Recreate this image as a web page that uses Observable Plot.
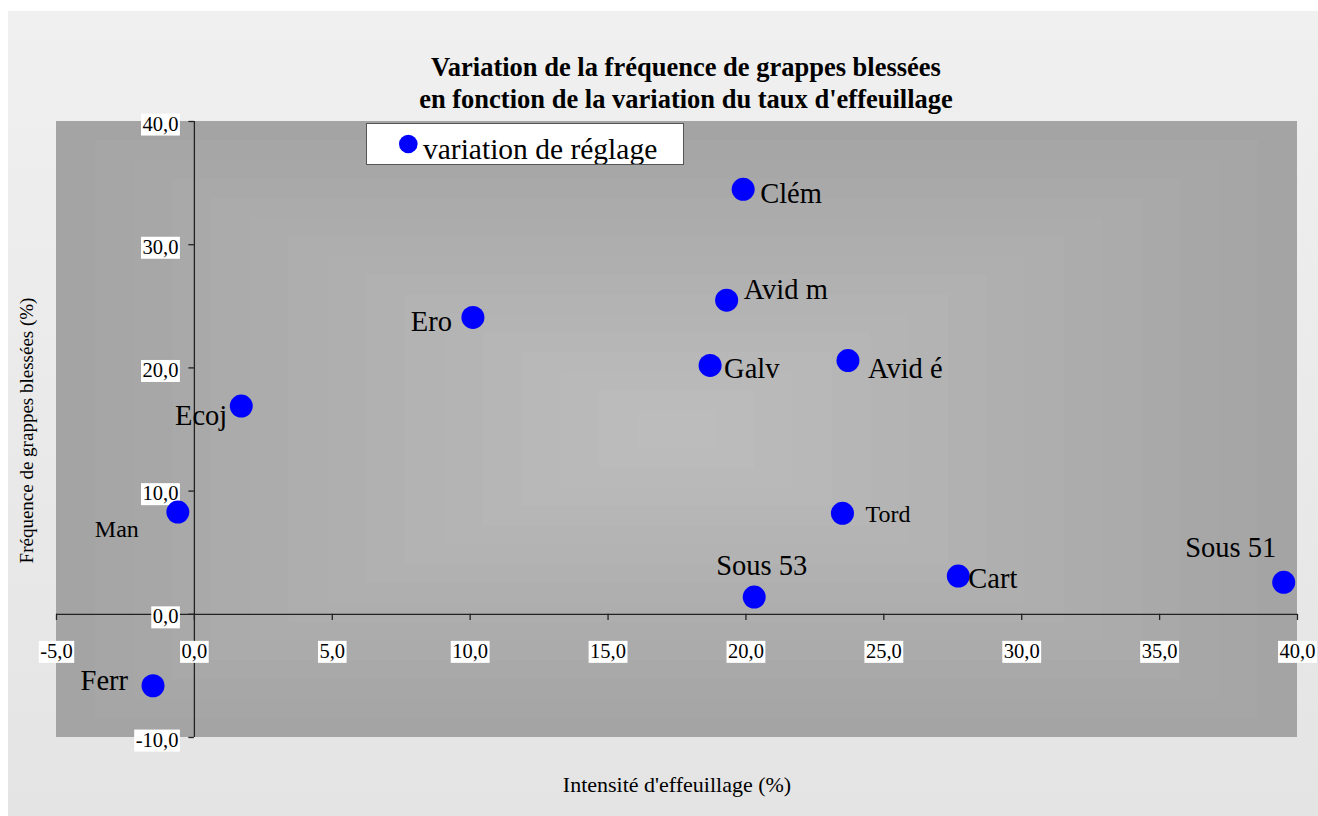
<!DOCTYPE html>
<html><head><meta charset="utf-8">
<script src="https://cdn.jsdelivr.net/npm/d3@7"></script>
<script src="https://cdn.jsdelivr.net/npm/@observablehq/plot@0.6"></script>
<style>
html,body{margin:0;padding:0;background:#fff;}
#wrap{position:relative;width:1318px;height:816px;overflow:hidden;}
#panel{position:absolute;left:8px;top:11px;right:0;bottom:0;background:linear-gradient(#f0f0f0,#e4e4e4);}
#chart{position:absolute;left:0;top:0;}
#legend{position:absolute;left:366px;top:123px;width:318px;height:42px;box-sizing:border-box;background:#fff;border:1px solid #555;}
#legend svg{display:block;}
</style></head>
<body>
<div id="wrap"><div id="panel"></div><div id="chart"></div><div id="legend"></div></div>
<script>
// ---- data ----
const names = ["Clém","Avid m","Ero","Galv","Avid é","Ecoj","Man","Ferr","Tord","Sous 53","Cart","Sous 51"];
const effeuillage = [19.9,19.3,10.1,18.7,23.7,1.7,-0.6,-1.5,23.5,20.3,27.7,39.5];
const blessees = [34.5,25.5,24.1,20.2,20.6,16.9,8.3,-5.8,8.2,1.4,3.1,2.6];
const xTicks = [-5,0,5,10,15,20,25,30,35,40];
const yTicks = [-10,0,10,20,30,40];
const seriesName = "variation de réglage";
const titleLines = ["Variation de la fréquence de grappes blessées","en fonction de la variation du taux d'effeuillage"];
const xTitle = "Intensité d'effeuillage (%)";
const yTitle = "Fréquence de grappes blessées (%)";

// ---- layout of point labels (relative to each point, pixels) ----
const labelLayout = {
  "Clém":   {anchor:"start",  dx:17,   dy:4.5},
  "Avid m": {anchor:"start",  dx:17,   dy:-10.5},
  "Ero":    {anchor:"end",    dx:-21,  dy:4.5},
  "Galv":   {anchor:"start",  dx:14,   dy:3},
  "Avid é": {anchor:"start",  dx:20,   dy:8},
  "Ecoj":   {anchor:"end",    dx:-14,  dy:10},
  "Man":    {anchor:"end",    dx:-39,  dy:17.5, small:true},
  "Ferr":   {anchor:"end",    dx:-25,  dy:-5},
  "Tord":   {anchor:"start",  dx:23,   dy:1,    small:true},
  "Sous 53":{anchor:"middle", dx:7.5,  dy:-31},
  "Cart":   {anchor:"start",  dx:10,   dy:3},
  "Sous 51":{anchor:"end",    dx:-7.5, dy:-34.5}
};

const points = names.map((n, i) => ({name: n, x: effeuillage[i], y: blessees[i]}));
const fmt = v => v.toFixed(1).replace(".", ",");
const xDomain = [xTicks[0], xTicks[xTicks.length - 1]];
const yDomain = [yTicks[0], yTicks[yTicks.length - 1]];
const cx = (xDomain[0] + xDomain[1]) / 2, cy = (yDomain[0] + yDomain[1]) / 2;
const N = 16;
const grad = d3.range(N).map(i => ({t: i / N}));
const shade = d3.interpolateRgb("#a4a4a4", "#bebebe");
const font = "Liberation Serif";

const labelMarks = points.map(p => {
  const L = labelLayout[p.name];
  return Plot.text([p], {x: "x", y: "y", text: "name", textAnchor: L.anchor, dx: L.dx, dy: L.dy,
    fontSize: L.small ? 24 : 28.5, fill: "#000", fontFamily: font});
});

const chart = Plot.plot({
  width: 1318, height: 816,
  marginLeft: 56, marginRight: 21, marginTop: 121, marginBottom: 79,
  x: {domain: xDomain, axis: null},
  y: {domain: yDomain, axis: null},
  color: {type: "identity"},
  style: {background: "transparent", fontFamily: font, fontSize: "20px", color: "#000", overflow: "visible"},
  marks: [
    Plot.rect(grad, {
      x1: d => xDomain[0] + d.t * (cx - xDomain[0]),
      x2: d => xDomain[1] - d.t * (xDomain[1] - cx),
      y1: d => yDomain[0] + d.t * (cy - yDomain[0]),
      y2: d => yDomain[1] - d.t * (yDomain[1] - cy),
      fill: d => shade(d.t)
    }),
    Plot.ruleY([0], {x1: xDomain[0], x2: xDomain[1], stroke: "#222", strokeWidth: 1.3}),
    Plot.ruleX([0], {y1: yDomain[0], y2: yDomain[1], stroke: "#222", strokeWidth: 1.3}),
    Plot.ruleX(xTicks, {x: d => d, y1: 0, y2: -0.5, stroke: "#222", strokeWidth: 1.3}),
    Plot.ruleY(yTicks, {y: d => d, x1: 0, x2: -0.2, stroke: "#222", strokeWidth: 1.3}),
    Plot.text(xTicks, {x: d => d, y: 0, text: fmt, dy: 37, fontSize: 20.5, fill: "#000", fontFamily: font}),
    Plot.text(yTicks, {x: 0, y: d => d, text: fmt, textAnchor: "end", dx: -16, dy: 2.5, fontSize: 20.5, fill: "#000", fontFamily: font}),
    Plot.dot(points, {x: "x", y: "y", r: 11.5, fill: "#0000ff"}),
    ...labelMarks,
    Plot.text([titleLines.join("\n")], {text: d => d, frameAnchor: "top", textAnchor: "middle", dx: 9, dy: -14,
      lineAnchor: "bottom", lineHeight: 1.2, fontSize: 26.5, fontWeight: "bold", fill: "#000", fontFamily: font}),
    Plot.text([xTitle], {text: d => d, frameAnchor: "bottom", textAnchor: "middle", dy: 54, lineAnchor: "bottom", fontSize: 22, fill: "#000", fontFamily: font}),
    Plot.text([yTitle], {text: d => d, frameAnchor: "left", textAnchor: "middle", rotate: -90, dx: -24, dy: 1, lineAnchor: "bottom", fontSize: 19, fill: "#000", fontFamily: font})
  ]
});
document.getElementById("chart").append(chart);

// white boxes behind tick labels
const tickTexts = new Set([...xTicks, ...yTicks].map(fmt));
chart.querySelectorAll("text").forEach(t => {
  if (tickTexts.has(t.textContent)) {
    const b = t.getBBox();
    const r = document.createElementNS("http://www.w3.org/2000/svg", "rect");
    r.setAttribute("x", b.x - 1.5);
    r.setAttribute("y", b.y + 1);
    r.setAttribute("width", b.width + 3);
    r.setAttribute("height", b.height);
    r.setAttribute("fill", "#fff");
    const tr = t.getAttribute("transform");
    if (tr) r.setAttribute("transform", tr);
    t.parentNode.insertBefore(r, t);
  }
});

// legend
document.getElementById("legend").innerHTML =
  `<svg width="316" height="40"><circle cx="41.3" cy="20" r="9.3" fill="#0000ff"/>` +
  `<text x="56" y="35" font-family="${font}" font-size="29.5" fill="#000">${seriesName}</text></svg>`;
</script>
</body></html>
